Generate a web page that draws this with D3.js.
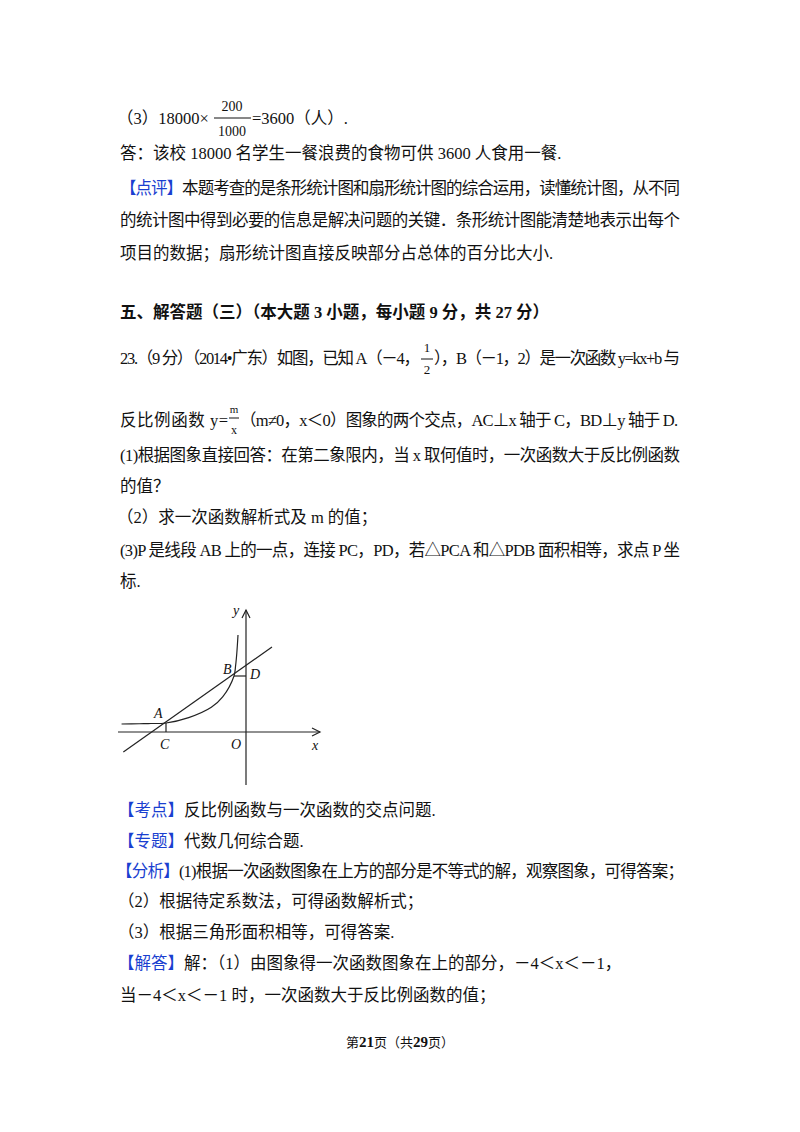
<!DOCTYPE html><html><head><meta charset="utf-8">
<script src="https://cdn.jsdelivr.net/npm/d3@7"></script>
<style>body{margin:0;background:#fff}</style></head><body><svg id="s" width="800" height="1132"></svg>
<script>
const lines=[
 {y:159,x:120,t:[["答：该校 18000 名学生一餐浪费的食物可供 3600 人食用一餐."]]},
 {y:194,x:120,w:560,t:[["【点评】","#1a3fd0"],["本题考查的是条形统计图和扇形统计图的综合运用，读懂统计图，从不同"]]},
 {y:226,x:120,w:560,t:[["的统计图中得到必要的信息是解决问题的关键．条形统计图能清楚地表示出每个"]]},
 {y:259,x:120,t:[["项目的数据；扇形统计图直接反映部分占总体的百分比大小."]]},
 {y:318,x:120,b:1,t:[["五、解答题（三）（本大题 3 小题，每小题 9 分，共 27 分）"]]},
 {y:461,x:120,w:560,t:[["(1)根据图象直接回答：在第二象限内，当 x 取何值时，一次函数大于反比例函数"]]},
 {y:492,x:120,t:[["的值？"]]},
 {y:523,x:117,t:[["（2）求一次函数解析式及 m 的值；"]]},
 {y:556,x:120,w:560,t:[["(3)P 是线段 AB 上的一点，连接 PC，PD，若△PCA 和△PDB 面积相等，求点 P 坐"]]},
 {y:587,x:120,t:[["标."]]},
 {y:816,x:118,t:[["【考点】","#1a3fd0"],["反比例函数与一次函数的交点问题."]]},
 {y:847,x:118,t:[["【专题】","#1a3fd0"],["代数几何综合题."]]},
 {y:877,x:116,w:568,t:[["【分析】","#1a3fd0"],["(1)根据一次函数图象在上方的部分是不等式的解，观察图象，可得答案；"]]},
 {y:907,x:118,t:[["（2）根据待定系数法，可得函数解析式；"]]},
 {y:938,x:118,t:[["（3）根据三角形面积相等，可得答案."]]},
 {y:969,x:118,t:[["【解答】","#1a3fd0"],["解：（1）由图象得一次函数图象在上的部分，－4＜x＜－1，"]]},
 {y:1001,x:120,t:[["当－4＜x＜－1 时，一次函数大于反比例函数的值；"]]}
];
const A=[-4,0.5],B=[-1,2];
const curvePts=[[-6.5,0.31],[-5.5,0.36],[-5,0.4],[-4,0.5],[-3,0.67],[-2,1],[-1.5,1.33],[-1,2],[-0.8,2.5],[-0.65,3.1],[-0.5,4]];
const lineEnds=[[-6.4,-1.13],[1.37,3.4]];
const xAxisRange=[-6.7,3.9], yAxisRange=[-3,5.1];
const svg=d3.select("#s");
const F="'Liberation Serif','Noto Sans CJK SC',serif";
lines.forEach(l=>{const t=svg.append("text").attr("x",l.x).attr("y",l.y).attr("font-family",F).attr("font-size",16.5).attr("fill","#111").attr("font-weight",l.b?"bold":null);
 if(l.w)t.attr("textLength",l.w).attr("lengthAdjust","spacing");
 l.t.forEach(p=>t.append("tspan").attr("fill",p[1]||"#111").text(p[0]));});
function txt(x,y,s,o={}){return svg.append("text").attr("x",x).attr("y",y).attr("font-family",F).attr("font-size",o.fs||16.5).attr("fill","#111").attr("font-style",o.i?"italic":null).attr("font-weight",o.b?"bold":null).attr("text-anchor",o.a||"start").text(s);}
txt(117,124,"（3）18000×");
txt(232,111,"200",{a:"middle",fs:14});txt(232,136,"1000",{a:"middle",fs:14});
svg.append("line").attr("x1",214).attr("x2",251).attr("y1",118).attr("y2",118).attr("stroke","#111");
txt(252,124,"=3600（人）.");
txt(120,364,"23.（9 分）（2014•广东）如图，已知 A（－4，").attr("textLength",300).attr("lengthAdjust","spacing");
txt(427,352,"1",{a:"middle",fs:13});txt(427,374,"2",{a:"middle",fs:13});
svg.append("line").attr("x1",421).attr("x2",433).attr("y1",359).attr("y2",359).attr("stroke","#111");
txt(434,364,"），B（－1，2）是一次函数 y=kx+b 与").attr("textLength",246).attr("lengthAdjust","spacing");
txt(120,426,"反比例函数 y=").attr("textLength",108).attr("lengthAdjust","spacing");
txt(234,413,"m",{a:"middle",fs:11});txt(234,434,"x",{a:"middle",fs:12});
svg.append("line").attr("x1",229).attr("x2",239).attr("y1",418).attr("y2",418).attr("stroke","#111");
txt(240,426,"（m≠0，x＜0）图象的两个交点，AC⊥x 轴于 C，BD⊥y 轴于 D.").attr("textLength",438).attr("lengthAdjust","spacing");
const ft=svg.append("text").attr("x",400).attr("y",1047).attr("text-anchor","middle").attr("font-family",F).attr("font-size",13).attr("fill","#111");
ft.append("tspan").text("第");ft.append("tspan").attr("font-weight","bold").attr("font-size",15).text("21");ft.append("tspan").text("页（共");ft.append("tspan").attr("font-weight","bold").attr("font-size",15).text("29");ft.append("tspan").text("页）");
const x=d3.scaleLinear().domain([-6.7,-4,-1,-0.5,0,3.9]).range([118,166,234,238,246,320]);
const y=d3.scaleLinear().domain([-3,-1.13,0,0.31,0.5,2,3.4,4,5.1]).range([785,752,732,724,723,676,647,635,610]);
const g=svg.append("g").attr("stroke","#222").attr("fill","none").attr("stroke-width",1.2);
g.append("line").attr("x1",x(xAxisRange[0])).attr("x2",x(xAxisRange[1])).attr("y1",y(0)).attr("y2",y(0));
g.append("line").attr("x1",x(0)).attr("x2",x(0)).attr("y1",y(yAxisRange[0])).attr("y2",y(yAxisRange[1]));
const xe=x(xAxisRange[1]),ye=y(yAxisRange[1]);
g.append("path").attr("d",`M${xe-8},${y(0)-4}L${xe},${y(0)}L${xe-8},${y(0)+4}`);
g.append("path").attr("d",`M${x(0)-4},${ye+8}L${x(0)},${ye}L${x(0)+4},${ye+8}`);
g.append("path").attr("d",d3.line().x(d=>x(d[0])).y(d=>y(d[1])).curve(d3.curveCatmullRom)(curvePts));
g.append("line").attr("x1",x(lineEnds[0][0])).attr("y1",y(lineEnds[0][1])).attr("x2",x(lineEnds[1][0])).attr("y2",y(lineEnds[1][1]));
g.append("line").attr("x1",x(A[0])).attr("x2",x(A[0])).attr("y1",y(A[1])).attr("y2",y(0));
g.append("line").attr("x1",x(B[0])).attr("x2",x(0)).attr("y1",y(B[1])).attr("y2",y(B[1]));
const L=(s,px,py)=>txt(px,py,s,{i:1,fs:14});
L("A",x(A[0])-12,y(A[1])-5);L("C",x(A[0])-6,y(0)+17);L("B",x(B[0])-11,y(B[1])-2);L("D",x(0)+4,y(B[1])+3);
L("O",x(0)-15,y(0)+17);L("x",x(xAxisRange[1])-8,y(0)+18);L("y",x(0)-13,ye+5);
</script></body></html>
